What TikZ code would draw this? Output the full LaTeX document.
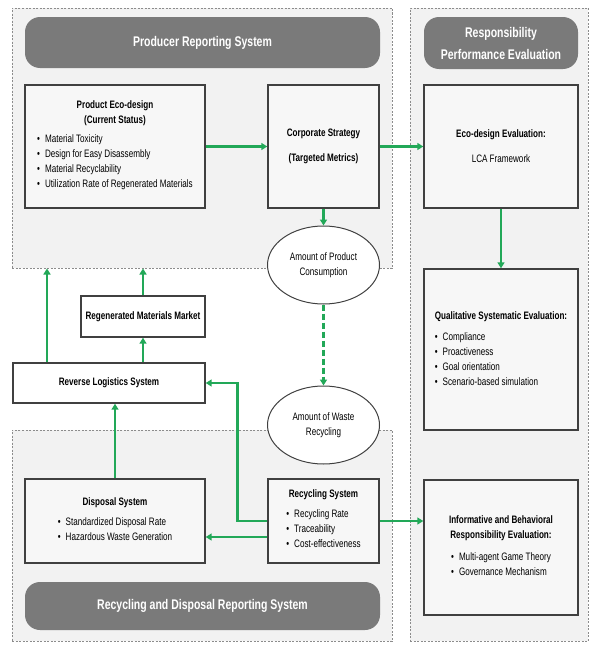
\documentclass[tikz,border=0pt]{standalone}
\usepackage{fontspec}
\setmainfont{Liberation Sans}[FakeStretch=0.75]
\usetikzlibrary{arrows.meta}
\usetikzlibrary{shapes.geometric}
\pgfdeclarelayer{regionlayer}
\pgfdeclarelayer{edgelayer}
\pgfdeclarelayer{nodelayer}
\pgfsetlayers{regionlayer,edgelayer,nodelayer,main}
\definecolor{flowgreen}{RGB}{34,168,88}
\definecolor{pillgray}{RGB}{122,122,122}
\tikzstyle{none}=[inner sep=0pt]
\tikzstyle{region}=[draw=black!45, fill=black!5, dash pattern=on 2pt off 1.5pt, line width=1pt, inner sep=0pt]
\tikzstyle{pill}=[fill=pillgray, rounded corners=15pt, text=white, font=\fontsize{14}{22}\selectfont\bfseries, align=center, inner sep=0pt]
\tikzstyle{box}=[draw=black!75, fill=black!3, line width=1.4pt, align=center, font=\fontsize{10.8}{15}\selectfont, inner sep=0pt]
\tikzstyle{whitebox}=[box, fill=white]
\tikzstyle{oval}=[ellipse, draw=black!75, fill=white, line width=1pt, align=center, font=\fontsize{10.8}{15.5}\selectfont, inner sep=0pt, minimum width=112pt, minimum height=78pt]
\tikzstyle{flow}=[draw=flowgreen, line width=2.5pt, -{Triangle[length=6pt,width=7pt]}]
\tikzstyle{dashflow}=[flow, dash pattern=on 6pt off 3pt]
\newcommand{\bul}{\textbullet\hspace{5pt}}

\begin{document}
\begin{tikzpicture}[x=1pt, y=-1pt]
	\useasboundingbox (0,0) rectangle (589,645);
	\begin{pgfonlayer}{regionlayer}
		\node [style=region, minimum width=380pt, minimum height=260pt] (0) at (202,138) {};
		\node [style=region, minimum width=380pt, minimum height=211pt] (15) at (202,535.5) {};
		\node [style=region, minimum width=178pt, minimum height=633pt] (16) at (499,324.5) {};
	\end{pgfonlayer}
	\begin{pgfonlayer}{nodelayer}
		\node [style=pill, minimum width=355pt, minimum height=51pt] (17) at (202.5,42.5) {Producer Reporting System};
		\node [style=pill, minimum width=154pt, minimum height=52pt] (18) at (501,43) {Responsibility\\Performance Evaluation};
		\node [style=pill, minimum width=355pt, minimum height=48pt] (19) at (202.5,606) {Recycling and Disposal Reporting System};
		\node [style=box, minimum width=180pt, minimum height=123pt] (1) at (115,146.5) {\textbf{Product Eco-design}\\\textbf{(Current Status)}\\[5pt]\begin{tabular}{@{}l@{}}\bul Material Toxicity\\\bul Design for Easy Disassembly\\\bul Material Recyclability\\\bul Utilization Rate of Regenerated Materials\end{tabular}};
		\node [style=box, minimum width=111pt, minimum height=123pt] (2) at (323.5,146.5) {\textbf{Corporate Strategy}\\[10pt]\textbf{(Targeted Metrics)}};
		\node [style=box, minimum width=154pt, minimum height=123pt] (3) at (501,146.5) {\textbf{Eco-design Evaluation:}\\[10pt]LCA Framework};
		\node [style=box, minimum width=154pt, minimum height=161pt] (4) at (501,349.5) {\begin{tabular}{@{}l@{}}\textbf{Qualitative Systematic Evaluation:}\\[6pt]\bul Compliance\\\bul Proactiveness\\\bul Goal orientation\\\bul Scenario-based simulation\end{tabular}};
		\node [style=box, minimum width=154pt, minimum height=135pt] (5) at (501,547.5) {\textbf{Informative and Behavioral}\\\textbf{Responsibility Evaluation:}\\[8pt]\begin{tabular}{@{}l@{}}\bul Multi-agent Game Theory\\\bul Governance Mechanism\end{tabular}};
		\node [style=box, minimum width=111pt, minimum height=84pt] (6) at (323.5,521) {\textbf{Recycling System}\\[6pt]\begin{tabular}{@{}l@{}}\bul Recycling Rate\\\bul Traceability\\\bul Cost-effectiveness\end{tabular}};
		\node [style=box, minimum width=180pt, minimum height=84pt] (7) at (115,521) {\textbf{Disposal System}\\[6pt]\begin{tabular}{@{}l@{}}\bul Standardized Disposal Rate\\\bul Hazardous Waste Generation\end{tabular}};
		\node [style=whitebox, minimum width=192pt, minimum height=40pt] (8) at (109,383) {\textbf{Reverse Logistics System}};
		\node [style=whitebox, minimum width=124pt, minimum height=41pt] (9) at (143,316.5) {\textbf{Regenerated Materials Market}};
		\node [style=oval] (11) at (323.5,265) {Amount of Product\\Consumption};
		\node [style=oval] (12) at (323.5,425) {Amount of Waste\\Recycling};
		\coordinate (14) at ([xshift=-62pt]8.north);
	\end{pgfonlayer}
	\begin{pgfonlayer}{edgelayer}
		\draw [style=flow] (1.east) to (2.west);
		\draw [style=flow] (2.east) to (3.west);
		\draw [style=flow] (2.south) to (11.north);
		\draw [style=dashflow] (11.south) to (12.north);
		\draw [style=flow] (3.south) to (4.north);
		\draw [style=flow] (6.east) to (6.east -| 5.west);
		\draw [style=flow] ([yshift=-16pt]6.west) to ([yshift=-16pt]7.east);
		\draw [style=flow] (6.west) -| ([xshift=32pt]8.east) -- (8.east);
		\draw [style=flow] (7.north) to (7.north |- 8.south);
		\draw [style=flow] (9.south |- 8.north) to (9.south);
		\draw [style=flow] (9.north) to (9.north |- 0.south);
		\draw [style=flow] (14) to (14 |- 0.south);
	\end{pgfonlayer}
\end{tikzpicture}
\end{document}
